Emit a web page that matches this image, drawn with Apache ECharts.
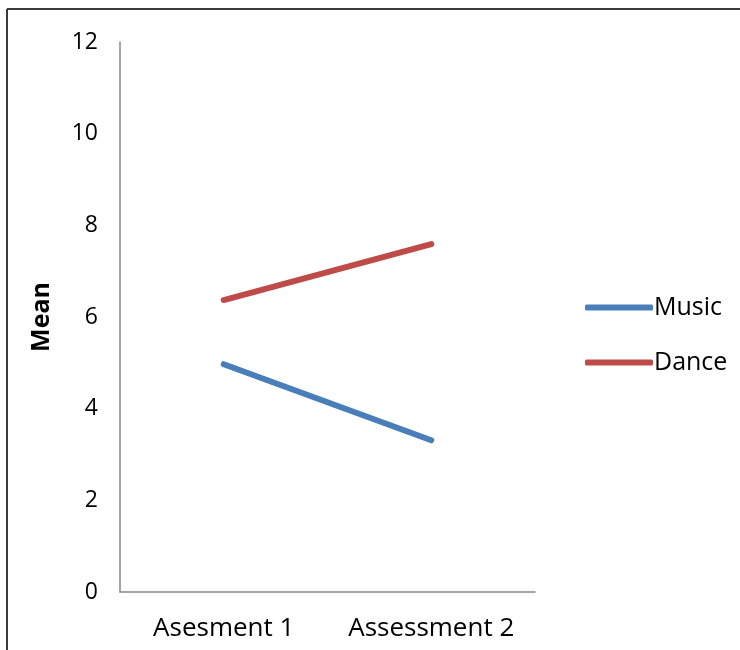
<!DOCTYPE html>
<html>
<head>
<meta charset="utf-8">
<style>
html,body{margin:0;padding:0;background:#fff;}
#chart{width:740px;height:650px;}
</style>
<script src="https://cdn.jsdelivr.net/npm/echarts@6/dist/echarts.min.js"></script>
</head>
<body>
<div id="chart"></div>
<script>
const categories = ["Asesment 1", "Assessment 2"];
const musicValues = [4.97, 3.31];
const danceValues = [6.37, 7.59];
const yTicks = [0, 2, 4, 6, 8, 10, 12];

const chart = echarts.init(document.getElementById('chart'), null, {renderer: 'canvas'});
const FONT = '"Open Sans", "Liberation Sans", sans-serif';
chart.setOption({
  animation: false,
  backgroundColor: '#ffffff',
  graphic: [
    {type: 'line', shape: {x1: 7, y1: 9, x2: 740, y2: 9}, style: {stroke: '#3a3a3a', lineWidth: 2}},
    {type: 'line', shape: {x1: 7, y1: 9, x2: 7, y2: 650}, style: {stroke: '#3a3a3a', lineWidth: 2}}
  ],
  grid: {left: 120, right: 205, top: 42, bottom: 58, containLabel: false},
  legend: {
    orient: 'vertical',
    left: 580,
    top: 290,
    itemWidth: 68,
    itemHeight: 6,
    itemGap: 30,
    icon: 'roundRect',
    textStyle: {fontFamily: FONT, fontSize: 25, color: '#000', padding: [0, 0, 0, -4]},
    data: ['Music', 'Dance']
  },
  xAxis: {
    type: 'category',
    data: categories,
    boundaryGap: true,
    axisLine: {lineStyle: {color: '#888888', width: 1.5}},
    axisTick: {show: false},
    axisLabel: {fontFamily: FONT, fontSize: 26, color: '#000', margin: 24, interval: 0, hideOverlap: false}
  },
  yAxis: {
    type: 'value',
    min: yTicks[0],
    max: yTicks[yTicks.length - 1],
    interval: 2,
    name: 'Mean',
    nameLocation: 'middle',
    nameGap: 66,
    nameTextStyle: {fontFamily: FONT, fontSize: 25, fontWeight: 'bold', color: '#000'},
    axisLine: {show: true, lineStyle: {color: '#888888', width: 1.5}},
    axisTick: {show: false},
    splitLine: {show: false},
    axisLabel: {fontFamily: FONT, fontSize: 23, color: '#000', margin: 22}
  },
  series: [
    {
      name: 'Music', type: 'line', data: musicValues, symbol: 'none',
      color: '#4A7EBB',
      lineStyle: {color: '#4A7EBB', width: 6, cap: 'round'}
    },
    {
      name: 'Dance', type: 'line', data: danceValues, symbol: 'none',
      color: '#BE4B48',
      lineStyle: {color: '#BE4B48', width: 6, cap: 'round'}
    }
  ]
});
</script>
</body>
</html>
